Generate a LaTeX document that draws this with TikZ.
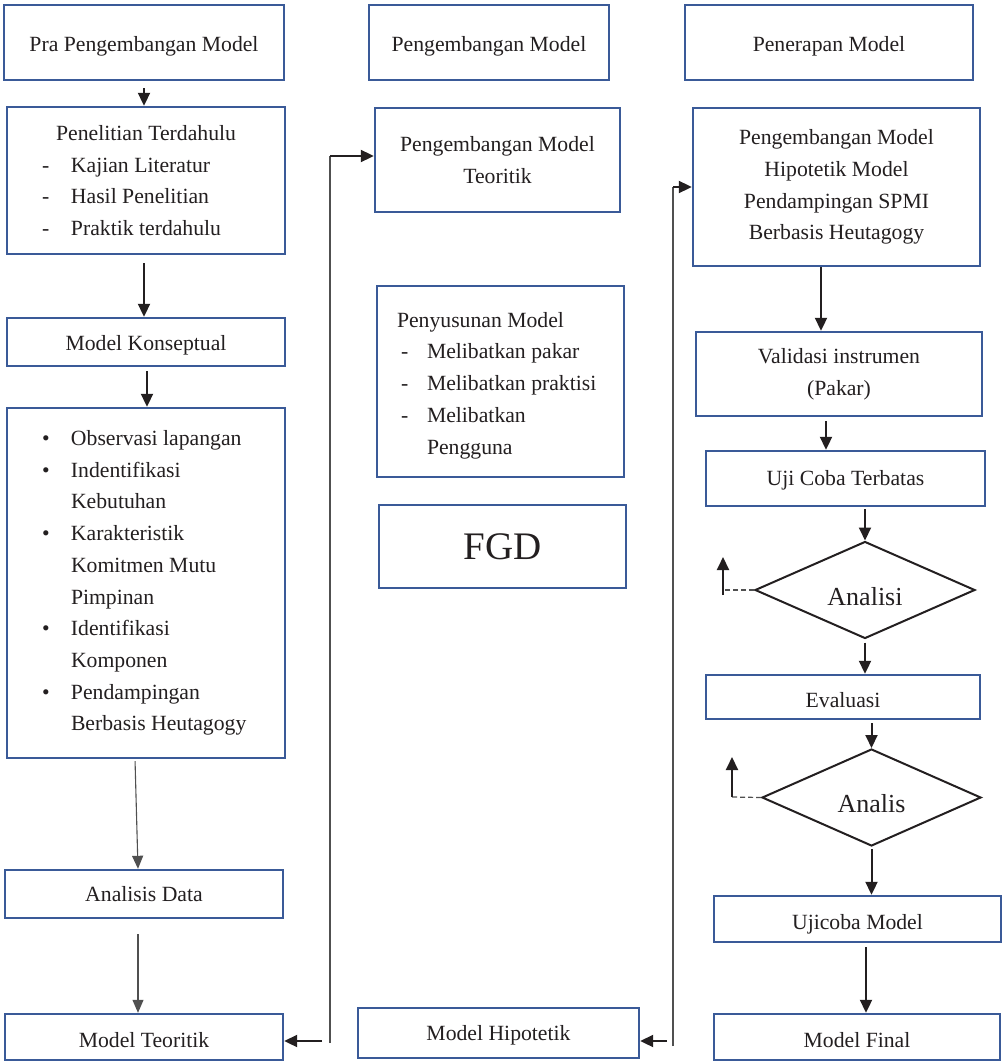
\documentclass[tikz,border=0pt]{standalone}
\usepackage{fontspec}
\setmainfont{Liberation Serif}
\usetikzlibrary{arrows.meta,shapes.geometric}
\definecolor{boxblue}{RGB}{58,90,152}
\definecolor{ink}{RGB}{35,31,32}
\definecolor{wire}{RGB}{80,80,80}
% list helpers
\newcommand\natsp{\spaceskip=0pt\xspaceskip=0pt}
\newcommand\dashitem[1]{\makebox[29pt][l]{-}#1}
\newcommand\bulitem[1]{\makebox[29pt][l]{\textbullet}#1}
\newcommand\contitem[1]{\hspace*{29pt}#1}
\newcommand\indentL{\hspace*{35pt}}
\begin{document}
\begin{tikzpicture}[x=1pt,y=-1pt,
  box/.style={draw=boxblue, line width=2.4pt, fill=white, inner sep=0pt,
    text=ink, font=\fontsize{21.7}{31.7}\selectfont},
  lowered/.style={execute at begin node={\rule{0pt}{#1}}},
  lowered/.default=21pt,
  decision/.style={draw=ink, line width=2pt, diamond, aspect=2.27, inner sep=0pt,
    minimum width=220pt, minimum height=97pt, text=ink,
    font=\fontsize{26}{30}\selectfont, lowered=31pt},
  arr/.style={draw=ink, line width=2pt, -{Triangle[length=13pt,width=12pt]}},
  thinarr/.style={draw=wire, line width=1.1pt, -{Triangle[length=13pt,width=11pt]}},
  wireline/.style={draw=wire, line width=1.6pt},
  dashline/.style={draw=wire, line width=1.2pt, dash pattern=on 5pt off 3pt}
]
\useasboundingbox (0,0) rectangle (1005,1062);

% ---- left column: pre-development
\node[box, lowered=23pt, minimum width=280pt, minimum height=75pt] (pra) at (144,42.5) {Pra Pengembangan Model};
\node[box, minimum width=278pt, minimum height=147pt, text width=278pt, align=left] (pen) at (146,180.5)
  {\natsp\makebox[278pt][c]{Penelitian Terdahulu}\\
   \indentL\dashitem{Kajian Literatur}\\
   \indentL\dashitem{Hasil Penelitian}\\
   \indentL\dashitem{Praktik terdahulu}};
\node[box, lowered, minimum width=278pt, minimum height=48pt] (kon) at (146,342) {Model Konseptual};
\node[box, minimum width=278pt, minimum height=350pt, text width=278pt, align=left] (bul) at (146,583)
  {\natsp\indentL\bulitem{Observasi lapangan}\\
   \indentL\bulitem{Indentifikasi}\\
   \indentL\contitem{Kebutuhan}\\
   \indentL\bulitem{Karakteristik}\\
   \indentL\contitem{Komitmen Mutu}\\
   \indentL\contitem{Pimpinan}\\
   \indentL\bulitem{Identifikasi}\\
   \indentL\contitem{Komponen}\\
   \indentL\bulitem{Pendampingan}\\
   \indentL\contitem{Berbasis Heutagogy}};
\node[box, minimum width=278pt, minimum height=48pt] (ana) at (144,894) {Analisis Data};
\node[box, lowered, minimum width=278pt, minimum height=46pt] (teo) at (144,1037) {Model Teoritik};

% ---- middle column: development
\node[box, lowered=23pt, minimum width=240pt, minimum height=75pt] (pm) at (489,42.5) {Pengembangan Model};
\node[box, lowered=19pt, minimum width=245pt, minimum height=104pt, align=center] (pmt) at (497.5,160)
  {Pengembangan Model\\Teoritik};
\node[box, lowered=23pt, minimum width=247pt, minimum height=191pt, text width=247pt, align=left] (pny) at (500.5,381.5)
  {\natsp\hspace*{20pt}Penyusunan Model\\
   \hspace*{24pt}\makebox[26pt][l]{-}Melibatkan pakar\\
   \hspace*{24pt}\makebox[26pt][l]{-}Melibatkan praktisi\\
   \hspace*{24pt}\makebox[26pt][l]{-}Melibatkan\\
   \hspace*{50pt}Pengguna};
\node[box, minimum width=247pt, minimum height=83pt, font=\fontsize{39}{44}\selectfont] (fgd) at (502.5,546.5) {FGD};
\node[box, lowered=19pt, minimum width=281pt, minimum height=50pt] (mh) at (498.5,1033) {Model Hipotetik};

% ---- right column: application
\node[box, lowered=23pt, minimum width=288pt, minimum height=75pt] (pen2) at (829,42.5) {Penerapan Model};
\node[box, lowered=25pt, minimum width=287pt, minimum height=158pt, align=center] (hip) at (836.5,187)
  {Pengembangan Model\\Hipotetik Model\\Pendampingan SPMI\\Berbasis Heutagogy};
\node[box, lowered=19pt, minimum width=286pt, minimum height=84pt, align=center] (val) at (839,374)
  {Validasi instrumen\\(Pakar)};
\node[box, lowered=19pt, minimum width=279pt, minimum height=55pt] (uji) at (845.5,478.5) {Uji Coba Terbatas};
\node[decision] (d1) at (865,590) {Analisi};
\node[box, lowered, minimum width=274pt, minimum height=44pt] (eva) at (843,697) {Evaluasi};
\node[decision, minimum width=219pt] (d2) at (871.5,797.5) {Analis};
\node[box, lowered=25pt, minimum width=287pt, minimum height=46pt] (ujm) at (857.5,919) {Ujicoba Model};
\node[box, lowered, minimum width=286pt, minimum height=46pt] (fin) at (857,1037) {Model Final};

% ---- left column flow
\draw[arr, shorten <=7pt] (pra.south) -- (pra.south |- pen.north);
\draw[arr, shorten <=8pt] ([xshift=-2pt]pen.south) -- ([xshift=-2pt]pen.south |- kon.north);
\draw[arr, shorten <=4pt] ([xshift=1pt]kon.south) -- ([xshift=1pt]kon.south |- bul.north);
\draw[thinarr, shorten <=2pt] ([xshift=-11pt]bul.south) -- ([xshift=-6pt]ana.north);
\draw[thinarr, shorten <=15pt] ([xshift=-6pt]ana.south) -- ([xshift=-6pt]ana.south |- teo.north);

% ---- link between left and middle column
\coordinate (lb) at (330,1043);
\coordinate (lt) at (330,156);
\coordinate (la) at (322,1041);
\draw[wireline] (lb) -- (lt);
\draw[arr] (lt) -- (lt -| pmt.west);
\draw[arr] (la) -- (la -| teo.east);

% ---- link between middle and right column
\coordinate (rb) at (673,1046);
\coordinate (rt) at (673,187);
\coordinate (ra) at (667,1041);
\draw[wireline] (rb) -- (rt);
\draw[arr] (rt) -- (rt -| hip.west);
\draw[arr] (ra) -- (ra -| mh.east);

% ---- right column flow
\draw[arr] ([xshift=-15.5pt]hip.south) -- ([xshift=-15.5pt]hip.south |- val.north);
\draw[arr, shorten <=4pt] ([xshift=-13pt]val.south) -- ([xshift=-13pt]val.south |- uji.north);
\draw[arr, shorten <=2pt] (d1.north |- uji.south) -- (d1.north);
\draw[arr, shorten <=3pt] (d1.south) -- (d1.south |- eva.north);
\draw[arr, shorten <=3pt] (d2.north |- eva.south) -- (d2.north);
\draw[arr, shorten <=2pt] (d2.south) -- (d2.south |- ujm.north);
\draw[arr, shorten <=4pt] ([xshift=8.5pt]ujm.south) -- ([xshift=8.5pt]ujm.south |- fin.north);

% ---- feedback stubs from the decisions
\coordinate (d1c) at (723,590);
\coordinate (d1t) at (723,557);
\draw[dashline] (d1.west) -- (d1c);
\draw[arr] ([yshift=-5pt]d1c) -- (d1t);
\coordinate (d2c) at (732,797);
\coordinate (d2t) at (732,757);
\draw[dashline] (d2.west) -- (d2c);
\draw[arr] (d2c) -- (d2t);
\end{tikzpicture}
\end{document}
